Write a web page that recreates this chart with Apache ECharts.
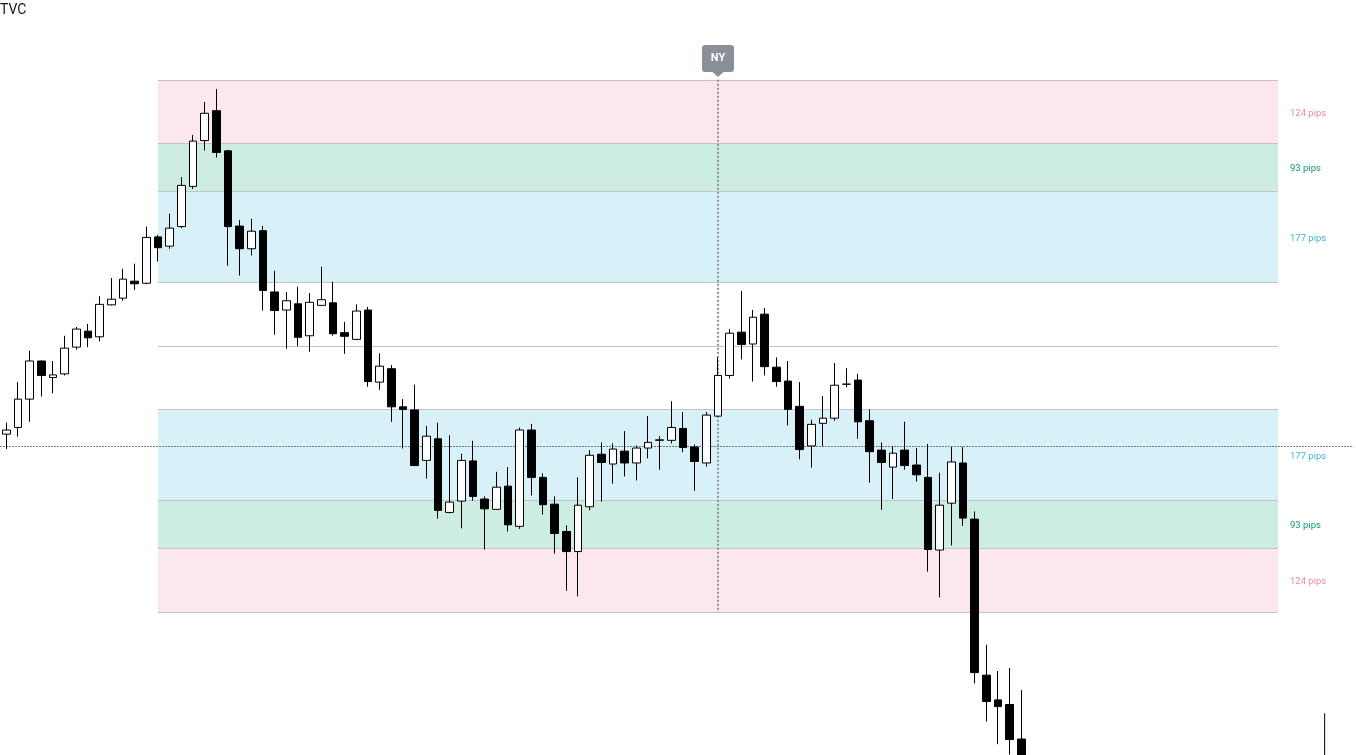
<!DOCTYPE html>
<html><head><meta charset="utf-8">
<script src="https://cdn.jsdelivr.net/npm/echarts@6/dist/echarts.min.js"></script>
<style>html,body{margin:0;padding:0;background:#fff}#c{width:1356px;height:755px}</style>
</head><body><div id="c"></div>
<script>
const categories = Array.from({length: 116}, (_, i) => String(i));
const opens  = [1.0729,1.0742,1.0797,1.0871,1.0839,1.0846,1.0898,1.0929,1.0918,1.0980,
                1.0993,1.1026,1.1022,1.1112,1.1094,1.1132,1.1210,1.1299,1.1357,1.1279,
                1.1133,1.1089,1.1124,1.1005,1.0970,1.0982,1.0920,1.0979,1.0984,1.0926,
                1.0913,1.0970,1.0830,1.0856,1.0782,1.0776,1.0678,1.0720,1.0577,1.0599,
                1.0677,1.0603,1.0583,1.0628,1.0550,1.0737,1.0645,1.0593,1.0540,1.0501,
                1.0588,1.0690,1.0671,1.0696,1.0673,1.0702,1.0717,1.0717,1.0740,1.0704,
                1.0673,1.0764,1.0843,1.0927,1.0904,1.0962,1.0859,1.0832,1.0783,1.0706,
                1.0750,1.0760,1.0826,1.0834,1.0755,1.0698,1.0665,1.0698,1.0669,1.0645,
                1.0504,1.0595,1.0673,1.0564,1.0261,1.0213,1.0204,1.0137];
const closes = [1.0737,1.0797,1.0871,1.0843,1.0844,1.0896,1.0933,1.0916,1.0981,1.0991,
                1.1030,1.1021,1.1111,1.1091,1.1129,1.1212,1.1298,1.1352,1.1276,1.1132,
                1.1089,1.1123,1.1008,1.0969,1.0988,1.0917,1.0985,1.0990,1.0924,1.0919,
                1.0968,1.0831,1.0861,1.0782,1.0777,1.0668,1.0725,1.0581,1.0597,1.0678,
                1.0608,1.0584,1.0626,1.0553,1.0737,1.0645,1.0592,1.0536,1.0501,1.0591,
                1.0688,1.0674,1.0700,1.0673,1.0702,1.0713,1.0718,1.0742,1.0703,1.0676,
                1.0766,1.0843,1.0925,1.0903,1.0956,1.0860,1.0831,1.0777,1.0699,1.0748,
                1.0760,1.0824,1.0826,1.0753,1.0695,1.0674,1.0692,1.0668,1.0650,1.0505,
                1.0591,1.0675,1.0566,1.0266,1.0210,1.0200,1.0136,1.0100];
const lows   = [1.0700,1.0724,1.0753,1.0802,1.0808,1.0843,1.0893,1.0898,1.0909,1.0979,
                1.0988,1.1009,1.1020,1.1064,1.1089,1.1129,1.1205,1.1280,1.1266,1.1056,
                1.1037,1.1076,1.0969,1.0922,1.0895,1.0900,1.0889,1.0978,1.0920,1.0885,
                1.0912,1.0821,1.0815,1.0753,1.0701,1.0667,1.0643,1.0565,1.0575,1.0546,
                1.0600,1.0505,1.0582,1.0540,1.0545,1.0610,1.0573,1.0497,1.0425,1.0414,
                1.0581,1.0598,1.0633,1.0647,1.0639,1.0682,1.0660,1.0711,1.0694,1.0619,
                1.0666,1.0763,1.0837,1.0874,1.0831,1.0843,1.0821,1.0746,1.0680,1.0664,
                1.0706,1.0755,1.0820,1.0720,1.0635,1.0582,1.0603,1.0660,1.0637,1.0462,
                1.0412,1.0513,1.0551,1.0245,1.0171,1.0127,1.0107,1.0095];
const highs  = [1.0751,1.0830,1.0891,1.0872,1.0871,1.0920,1.0937,1.0943,1.0997,1.1032,
                1.1050,1.1060,1.1132,1.1116,1.1157,1.1228,1.1310,1.1374,1.1399,1.1281,
                1.1145,1.1147,1.1133,1.1046,1.1005,1.1015,1.1003,1.1054,1.1025,1.0947,
                1.0981,1.0976,1.0886,1.0863,1.0797,1.0825,1.0745,1.0751,1.0727,1.0691,
                1.0716,1.0608,1.0656,1.0665,1.0742,1.0749,1.0653,1.0608,1.0552,1.0645,
                1.0698,1.0713,1.0711,1.0735,1.0707,1.0764,1.0725,1.0793,1.0772,1.0709,
                1.0772,1.0878,1.0933,1.1007,1.0970,1.0974,1.0878,1.0871,1.0830,1.0757,
                1.0803,1.0867,1.0857,1.0846,1.0777,1.0713,1.0705,1.0753,1.0702,1.0710,
                1.0654,1.0704,1.0704,1.0579,1.0320,1.0269,1.0275,1.0232];

const pivotLevel = 1.0900;
const zoneHigh = [1.1417, 1.1293, 1.1200, 1.0777, 1.0600, 1.0507];
const zoneLow  = [1.1293, 1.1200, 1.1023, 1.0600, 1.0507, 1.0383];
const zonePips = [124, 93, 177, 177, 93, 124];
const zoneKind = ['outer', 'mid', 'inner', 'inner', 'mid', 'outer'];
const zoneStartIndex = 13, zoneEndIndex = 109;
const dottedLevel = 1.07055;
const nyIndex = 61, nyLabel = 'NY', nyLabelLevel = 1.14537;
const strayIndex = 113, strayWick = [1.0187, 1.0050];

const fills = {outer: '#fce8ec', mid: '#cdede2', inner: '#d8f0f8'};
const labelColors = {outer: '#f08a9b', mid: '#0a9a76', inner: '#3fb5da'};
const FONT = 'Roboto, "Open Sans", sans-serif';

const candleData = opens.map((o, i) => [o, closes[i], lows[i], highs[i]]);

const areaData = zoneHigh.map((h, i) => [
  {xAxis: categories[zoneStartIndex], yAxis: h,
   itemStyle: {color: fills[zoneKind[i]]},
   label: {show: true, position: 'right', distance: 12, offset: [0, 1.5], formatter: zonePips[i] + ' pips',
           color: labelColors[zoneKind[i]], fontSize: 9.5, fontFamily: FONT}},
  {xAxis: categories[zoneEndIndex], yAxis: zoneLow[i]}
]);

const levelSet = Array.from(new Set(zoneHigh.concat(zoneLow).concat([pivotLevel])));
const grayLines = levelSet.map(v => [
  {coord: [categories[zoneStartIndex], v], lineStyle: {color: '#c3c3c3', width: 1, type: 'solid'}},
  {coord: [categories[zoneEndIndex], v]}
]);
const nyLine = [
  {coord: [categories[nyIndex], zoneHigh[0]], lineStyle: {color: '#8c939b', width: 2, type: [2, 2]}},
  {coord: [categories[nyIndex], zoneLow[zoneLow.length - 1]]}
];
const dotted = {yAxis: dottedLevel, lineStyle: {color: '#000', width: 1, type: [1, 2]}};

const chart = echarts.init(document.getElementById('c'), null, {renderer: 'canvas'});
chart.setOption({
  animation: false,
  backgroundColor: '#ffffff',
  title: {text: 'TVC', left: 0, top: 3, padding: 0,
          textStyle: {fontSize: 14, fontWeight: 'normal', color: '#131722', fontFamily: FONT}},
  grid: {left: 0.5, top: 1, width: 1353.3, height: 754, containLabel: false},
  xAxis: {type: 'category', data: categories, boundaryGap: true, show: false},
  yAxis: {type: 'value', min: 1.0106, max: 1.1570, show: false, splitLine: {show: false}},
  series: [
    {
      type: 'candlestick',
      z: 2,
      data: candleData,
      barWidth: 8,
      itemStyle: {color: '#ffffff', color0: '#000000', borderColor: '#000000', borderColor0: '#000000', borderWidth: 1},
      markArea: {silent: true, z: 0, data: areaData},
      markLine: {silent: true, z: 1, symbol: 'none', precision: 6, label: {show: false},
                 data: grayLines.concat([nyLine, dotted])},
      markPoint: {silent: true, z: 5, data: [{
        coord: [categories[nyIndex], nyLabelLevel],
        symbol: 'path://M3,0 H29 Q32,0 32,3 V24 Q32,27 29,27 H21.5 L16,32 L10.5,27 H3 Q0,27 0,24 V3 Q0,0 3,0 Z',
        symbolSize: [32, 32],
        itemStyle: {color: '#8a9098'},
        label: {show: true, formatter: nyLabel, color: '#ffffff', fontWeight: 'bold', fontSize: 11,
                fontFamily: FONT, offset: [0, -2.5]}
      }]}
    },
    {
      type: 'line', z: 2, silent: true, showSymbol: false,
      data: [[categories[strayIndex], strayWick[0]], [categories[strayIndex], strayWick[1]]],
      lineStyle: {color: '#000000', width: 1}
    }
  ]
});
</script></body></html>
